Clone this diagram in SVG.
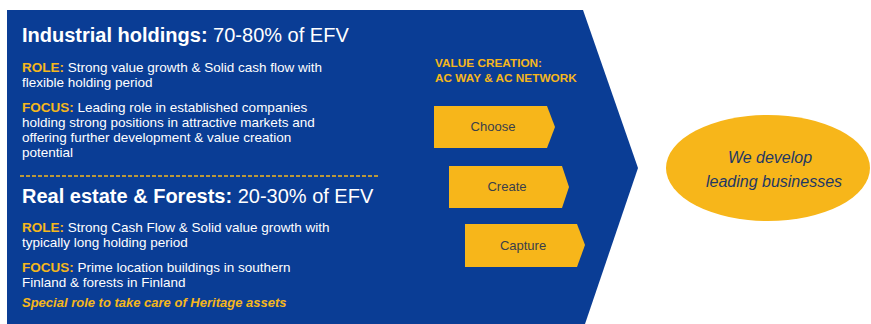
<svg xmlns="http://www.w3.org/2000/svg" width="871" height="324" viewBox="0 0 871 324">
<style>
.t{font-family:"Liberation Sans",Arial,sans-serif;fill:#fff}
.h{font-size:20px}
.b{font-weight:bold}
.g{fill:#f5b71c}
.s{font-size:13.5px}
.chev{fill:#f7b61a}
.cl{font-family:"Liberation Sans",Arial,sans-serif;font-size:13px;fill:#3a3f4a;text-anchor:middle}
.e{font-family:"Liberation Sans",Arial,sans-serif;font-size:16px;font-style:italic;fill:#1f3864;text-anchor:middle}
</style>
<rect width="871" height="324" fill="#fff"/>
<g id="panel">
<polygon points="7,10 583,10 638,168 585,324 7,324" fill="#0a3d95"/>
<text class="t h" x="22" y="42"><tspan class="b">Industrial holdings:</tspan> 70-80% of EFV</text>
<text class="t s" x="22" y="72"><tspan class="b g">ROLE:</tspan> Strong value growth &amp; Solid cash flow with</text>
<text class="t s" x="22" y="87">flexible holding period</text>
<text class="t s" x="22" y="112"><tspan class="b g">FOCUS:</tspan> Leading role in established companies</text>
<text class="t s" x="22" y="127">holding strong positions in attractive markets and</text>
<text class="t s" x="22" y="142">offering further development &amp; value creation</text>
<text class="t s" x="22" y="157">potential</text>
<line x1="20" y1="176" x2="380" y2="176" stroke="#f5b71c" stroke-width="1.3" stroke-dasharray="4,2"/>
<text class="t h" x="22" y="203"><tspan class="b">Real estate &amp; Forests:</tspan> 20-30% of EFV</text>
<text class="t s" x="22" y="232"><tspan class="b g">ROLE:</tspan> Strong Cash Flow &amp; Solid value growth with</text>
<text class="t s" x="22" y="247">typically long holding period</text>
<text class="t s" x="22" y="272"><tspan class="b g">FOCUS:</tspan> Prime location buildings in southern</text>
<text class="t s" x="22" y="287">Finland &amp; forests in Finland</text>
<text class="t b g" x="22" y="307" font-size="13" font-style="italic">Special role to take care of Heritage assets</text>
<text class="t b g" x="435" y="67" font-size="11.8">VALUE CREATION:</text>
<text class="t b g" x="435" y="82" font-size="11.8">AC WAY &amp; AC NETWORK</text>
</g>
<g id="choose">
<polygon class="chev" points="434,106 547,106 555,127 547,148 434,148"/>
<text class="cl" x="493" y="131">Choose</text>
</g>
<g id="create">
<polygon class="chev" points="449,166 562,166 569,187 562,208 449,208"/>
<text class="cl" x="507" y="191">Create</text>
</g>
<g id="capture">
<polygon class="chev" points="465,224 577,224 585,245 577,267 465,267"/>
<text class="cl" x="523" y="250">Capture</text>
</g>
<g id="result">
<ellipse cx="768" cy="168" rx="102" ry="53" fill="#f7b61a"/>
<text class="e" x="770" y="163">We develop</text>
<text class="e" x="774" y="187">leading businesses</text>
</g>
<g id="connectors"/>
</svg>
